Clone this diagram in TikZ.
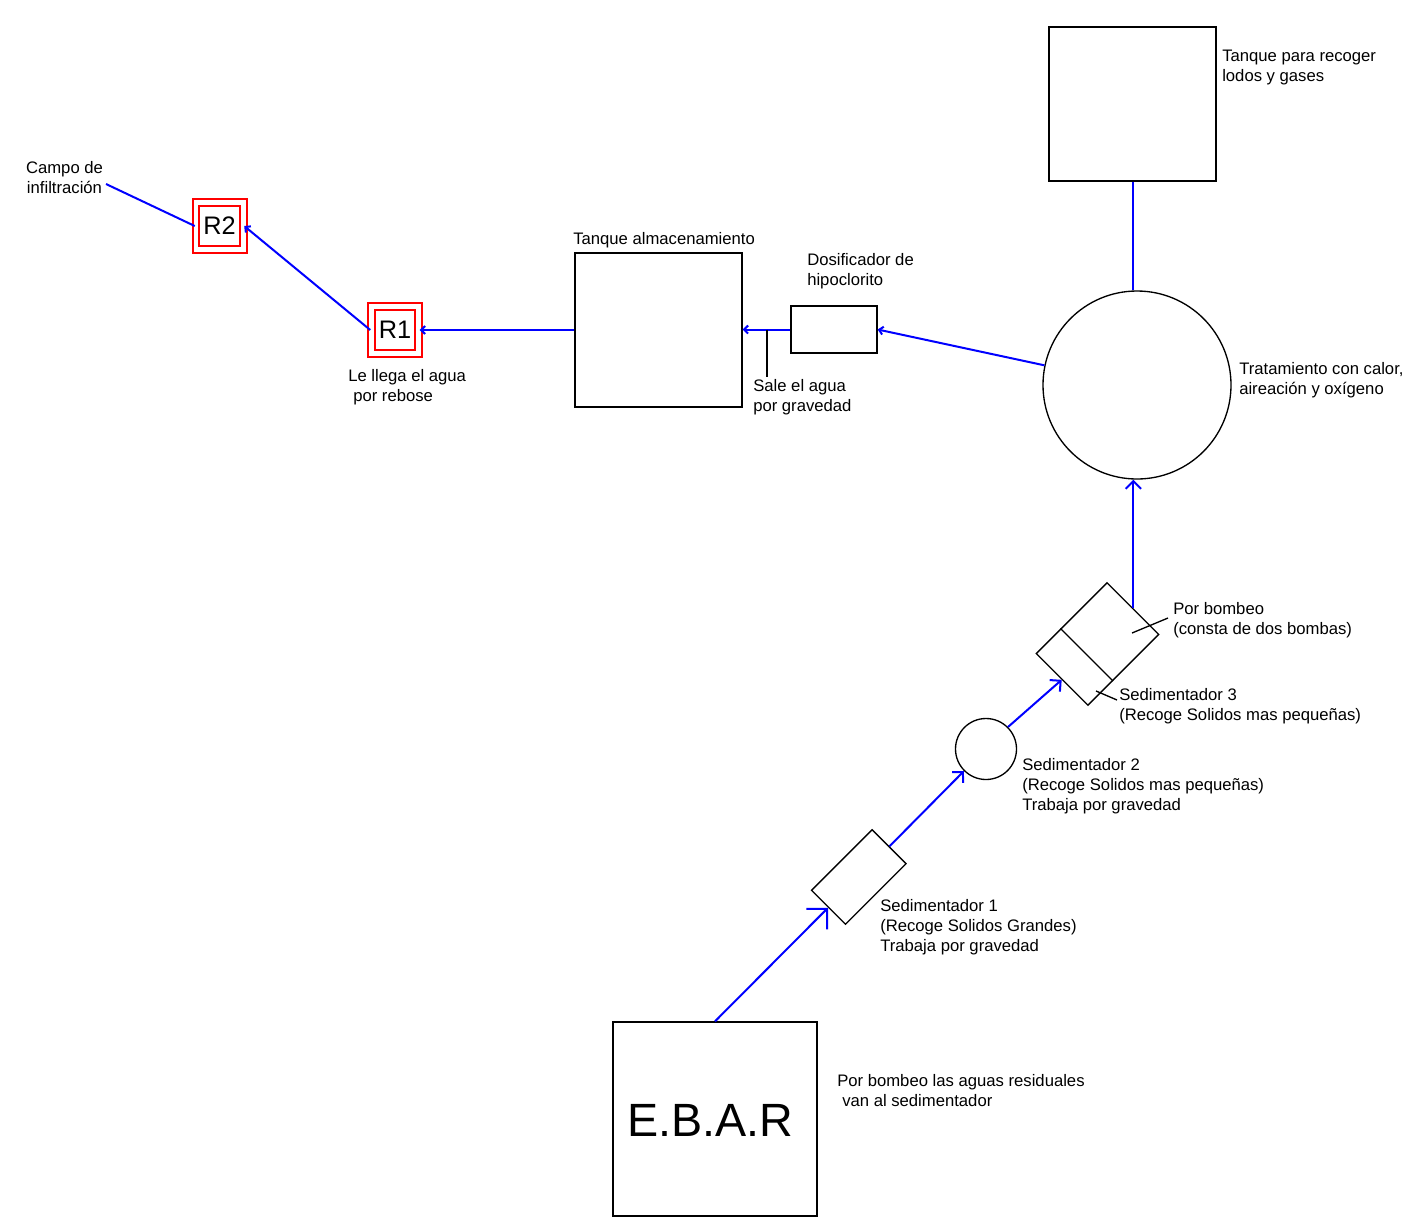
\documentclass[tikz,border=0pt]{standalone}
\usepackage{fontspec}
\setmainfont{Liberation Sans}
\usetikzlibrary{arrows.meta,calc}
\newcommand\lblsize{\fontsize{12.5}{15}\selectfont}
\begin{document}
\begin{tikzpicture}[x=0.75pt,y=-0.75pt,
  box/.style={draw, line width=1pt, inner sep=0pt},
  flow/.style={draw=blue, line width=1.5pt},
  bigtip/.style={-{Straight Barb[length=11pt,width=22pt]}},
  midtip/.style={-{Straight Barb[length=5.8pt,width=11.6pt]}},
  smalltip/.style={-{Straight Barb[length=3pt,width=6pt]}},
  lbl/.style={anchor=north west, inner sep=0pt, align=left, font=\lblsize},
  rbox/.style={draw=red, double=white, double distance=3.4pt, line width=1.5pt,
    minimum size=35.6pt, inner sep=0pt, font=\fontsize{19}{22}\selectfont},
  leader/.style={draw, line width=1pt}
]
\useasboundingbox (0,0) rectangle (1418,1229);

% boxes and vessels
\node[box, minimum width=125.25pt, minimum height=115.5pt] (tk) at (1132.5,104) {};
\node[box, circle, minimum size=141pt] (trat) at (1137,385) {};
\node[box, minimum width=125.25pt, minimum height=115.5pt] (alm) at (658.5,330) {};
\node[box, minimum width=64.5pt, minimum height=35.25pt] (dos) at (834,329.5) {};
\node[rbox] (r1) at (395,330) {R1};
\node[rbox] (r2) at (219.5,226) {R2};
\node[box, minimum width=75pt, minimum height=54.75pt, rotate=45] (s3) at (1097.5,644) {};
\node[box, circle, minimum size=45.75pt] (s2) at (986,749) {};
\node[box, minimum width=64.2pt, minimum height=36pt, rotate=45] (s1) at (858.8,877) {};
\node[box, minimum width=153pt, minimum height=145.5pt] (ebar) at (715,1119) {};
\node[font=\fontsize{35}{40}\selectfont, inner sep=0pt] (ebart) at (710,1120) {E.B.A.R};

% divider inside Sedimentador 3
\draw[leader] ($(s3.south west)!0.35!(s3.south east)$) -- ($(s3.north west)!0.35!(s3.north east)$);

% flows
\coordinate (tratup) at (tk.south |- trat.north);
\draw[flow] (tk.south) -- (tratup);
\draw[flow, midtip] (s3.east) -- (s3.east |- trat.south);
\draw[flow, smalltip] (trat.168) -- (dos.east);
\coordinate (almin) at (dos.west -| alm.east);
\draw[flow, smalltip] (dos.west) -- (almin);
\draw[flow, smalltip] (alm.west) -- (r1.east);
\draw[flow, smalltip] (r1.west) -- (r2.east);
\coordinate (campoend) at (106,184);
\draw[flow] (r2.west) -- (campoend);
\draw[flow, midtip] (s2.north east) -- (s3.west);
\draw[flow, midtip] (s1.east) -- (s2.south west);
\draw[flow, bigtip] (ebar.north) -- (s1.west);

% leaders
\coordinate (sl1) at (767,329.5); \coordinate (sl2) at (767,377);
\draw[leader] (sl1) -- (sl2);
\coordinate (pb1) at (1132,633); \coordinate (pb2) at (1168,618);
\draw[leader] (pb1) -- (pb2);
\coordinate (sd1) at (1096,691); \coordinate (sd2) at (1117,700);
\draw[leader] (sd1) -- (sd2);

% labels
\node[lbl] (ltk) at (1222,47) {\strut Tanque para recoger\\lodos y gases};
\node[lbl] (ltrat) at (1239,360) {\strut Tratamiento con calor,\\aireación y oxígeno};
\node[anchor=base west, inner sep=0pt, font=\lblsize] (lalm) at (573,244) {Tanque almacenamiento};
\node[lbl] (ldos) at (807,251) {\strut Dosificador de\\hipoclorito};
\node[lbl] (lsale) at (753,377) {\strut Sale el agua\\por gravedad};
\node[lbl] (lr1) at (348,367) {\strut Le llega el agua\\\hspace*{3.75pt}por rebose};
\node[anchor=north, inner sep=0pt, align=center, font=\lblsize] (lcampo) at (64.5,159) {\strut Campo de\\infiltración};
\node[lbl] (lpb) at (1173,600) {\strut Por bombeo\\(consta de dos bombas)};
\node[lbl] (ls3) at (1119,686) {\strut Sedimentador 3\\(Recoge Solidos mas pequeñas)};
\node[lbl] (ls2) at (1022,756) {\strut Sedimentador 2\\(Recoge Solidos mas pequeñas)\\Trabaja por gravedad};
\node[lbl] (ls1) at (880,897) {\strut Sedimentador 1\\(Recoge Solidos Grandes)\\Trabaja por gravedad};
\node[lbl] (lebar) at (837,1072) {\strut Por bombeo las aguas residuales\\\hspace*{3.75pt}van al sedimentador};
\end{tikzpicture}
\end{document}
